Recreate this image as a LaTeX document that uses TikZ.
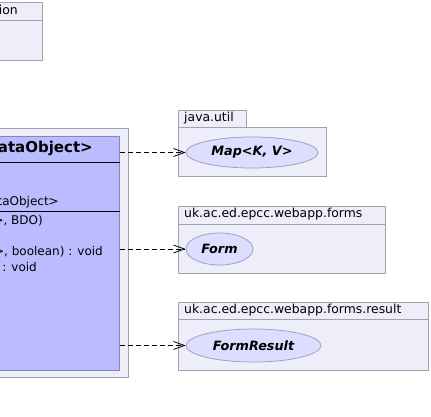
\documentclass[tikz,border=0pt]{standalone}
\usepackage{fontspec}
\setmainfont{DejaVu Sans}
\usetikzlibrary{arrows.meta,shapes.geometric}
\definecolor{pkgfill}{RGB}{238,238,251}
\definecolor{pkgline}{RGB}{160,160,176}
\definecolor{clsfill}{RGB}{187,187,255}
\definecolor{clsline}{RGB}{136,136,170}
\definecolor{ellfill}{RGB}{221,221,255}
\definecolor{ellline}{RGB}{160,160,192}
\begin{document}
\begin{tikzpicture}[x=1pt,y=-1pt,
  pkgbox/.style={draw=pkgline, fill=pkgfill, line width=0.8pt},
  pkglabel/.style={font=\fontsize{12.4}{14}\selectfont, inner sep=0pt, anchor=mid west},
  usecase/.style={ellipse, draw=ellline, fill=ellfill, inner sep=0pt, line width=0.8pt,
    font=\fontsize{12.8}{15}\selectfont\bfseries\itshape},
  dep/.style={dash pattern=on 5pt off 3pt, -{Straight Barb[length=11pt,width=8pt]}, line width=0.8pt},
  member/.style={font=\fontsize{12}{14}\selectfont, inner sep=0pt, anchor=mid east}]
\path[use as bounding box, fill=white] (0,0) rectangle (431,416);
\clip (0,0) rectangle (431,416);
% top-left package
\draw[pkgbox] (-200,2) rectangle (42,20);
\draw[pkgbox] (-200,20) rectangle (42,60);
\node[pkglabel, anchor=mid east] (sesslbl) at (18,11.5) {uk.ac.ed.epcc.webapp.session};
% package holding the class
\draw[pkgbox] (-200,128) rectangle (128,377);
\node[draw=clsline, fill=clsfill, line width=0.8pt, anchor=north east, inner sep=0pt,
  minimum width=400pt, minimum height=234pt] (cls) at (120,136) {};
\draw[black, line width=0.8pt] (cls.west |- 0,162) -- (cls.east |- 0,162);
\draw[black, line width=1.6pt] (cls.west |- 0,211.5) -- (cls.east |- 0,211.5);
\node[member, font=\fontsize{15}{18}\selectfont\bfseries] (ttl) at (93,150) {DataObjectFormFactory<BDO extends DataObject>};
\node[member] (m1) at (59,203) {<BDO extends DataObject>};
\node[member] (m2) at (43,222) {DataObjectFormFactory(Map<String, Object>, BDO)};
\node[member] (m3) at (103,253) {buildForm(Form, Map<String, Object>, boolean) : void};
\node[member] (m4) at (37,269) {processForm(FormResult) : void};
% java.util
\draw[pkgbox] (178,110) rectangle (246,127);
\draw[pkgbox] (178,127) rectangle (326,176);
\node[pkglabel] (p1) at (184,118.5) {java.util};
\node[usecase, minimum width=132pt, minimum height=31pt] (map) at (252,152.5) {Map<K, V>};
% forms
\draw[pkgbox] (178,206) rectangle (385,224);
\draw[pkgbox] (178,224) rectangle (385,273);
\node[pkglabel] (p2) at (184,215) {uk.ac.ed.epcc.webapp.forms};
\node[usecase, minimum width=67pt, minimum height=32pt] (form) at (219.5,249) {Form};
% forms.result
\draw[pkgbox] (178,302) rectangle (428,319);
\draw[pkgbox] (178,319) rectangle (428,370);
\node[pkglabel] (p3) at (184,310.5) {uk.ac.ed.epcc.webapp.forms.result};
\node[usecase, minimum width=135pt, minimum height=33pt] (fres) at (253.5,345.5) {FormResult};
% dependencies
\draw[dep] (cls.east |- map.west) -- (map.west);
\draw[dep] (cls.east |- form.west) -- (form.west);
\draw[dep] (cls.east |- fres.west) -- (fres.west);
\end{tikzpicture}
\end{document}
